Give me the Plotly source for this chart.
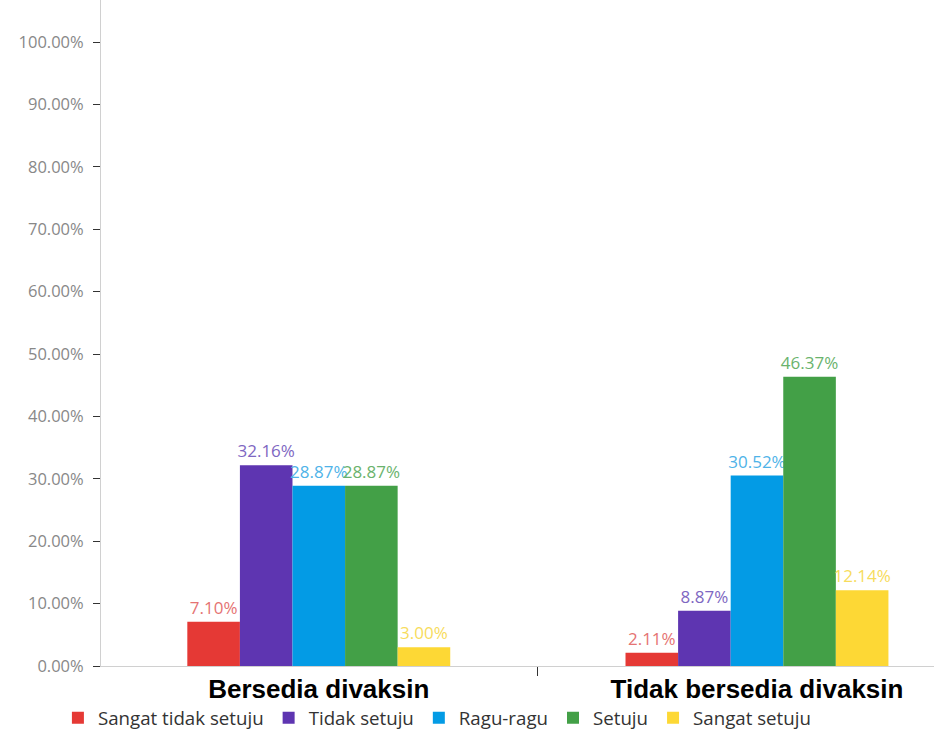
import plotly.graph_objects as go

categories = ["Bersedia divaksin", "Tidak bersedia divaksin"]
series_names = ["Sangat tidak setuju", "Tidak setuju", "Ragu-ragu", "Setuju", "Sangat setuju"]
sangat_tidak_setuju = [0.0710, 0.0211]
tidak_setuju = [0.3216, 0.0887]
ragu_ragu = [0.2887, 0.3052]
setuju = [0.2887, 0.4637]
sangat_setuju = [0.0300, 0.1214]
series_values = [sangat_tidak_setuju, tidak_setuju, ragu_ragu, setuju, sangat_setuju]
colors = ["#e53935", "#5e35b1", "#039be5", "#43a047", "#fdd835"]
text_colors = ["#e57373", "#7e67c2", "#4fb3e8", "#6ab36d", "#f7dc5c"]

fig = go.Figure()
for name, vals, c, tc in zip(series_names, series_values, colors, text_colors):
    fig.add_trace(go.Bar(
        x=categories, y=vals, name=name,
        marker=dict(color=c, line=dict(width=0)),
        text=[f"{v*100:.2f}%" for v in vals],
        textposition="outside",
        constraintext="none",
        cliponaxis=False,
        textfont=dict(family="Open Sans", size=17, color=tc),
    ))

fig.update_layout(
    width=934, height=732,
    margin=dict(l=101, r=0, t=0, b=66, autoexpand=False),
    paper_bgcolor="white", plot_bgcolor="white",
    barmode="group", bargap=0.4, bargroupgap=0,
    showlegend=True,
    legend=dict(
        orientation="h", xref="container", yref="container",
        x=0.062, y=0.019, xanchor="left", yanchor="middle",
        font=dict(family="Open Sans", size=18.7, color="#333333"),
        itemsizing="constant",
    ),
    xaxis=dict(
        range=[-0.497, 1.404], automargin=False,
        showline=True, linecolor="#d0d0d0", linewidth=1,
        tickson="boundaries", ticks="outside", ticklen=9, tickcolor="#333333",
        tickfont=dict(family="Liberation Sans, Arial", size=26, color="#000000", weight="bold"),
        showgrid=False, zeroline=False,
    ),
    yaxis=dict(
        range=[0, 1.0673], dtick=0.1, tick0=0, automargin=False,
        tickformat=".2%",
        showline=True, linecolor="#d0d0d0", linewidth=1,
        ticks="outside", ticklen=7, tickcolor="#333333",
        ticklabelstandoff=6,
        tickfont=dict(family="Open Sans", size=16.5, color="#888888"),
        showgrid=False, zeroline=False,
    ),
)
fig.update_xaxes(tickangle=0)
fig.update_layout(font=dict(family="Open Sans"))
fig.write_html("out.html", config={"displayModeBar": False},
               post_script="document.body.style.margin='0';")
